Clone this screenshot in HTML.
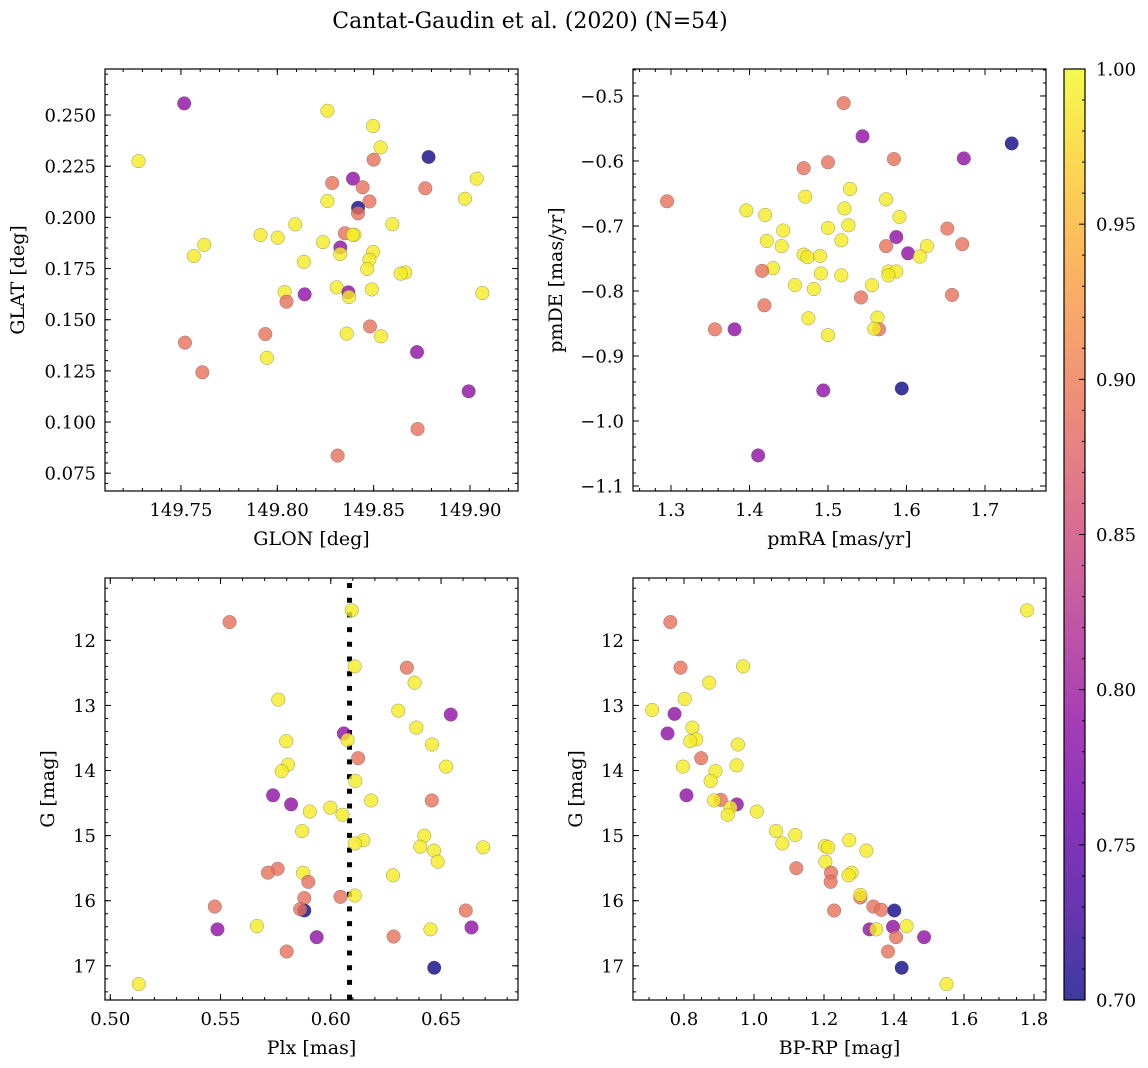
<!DOCTYPE html>
<html><head><meta charset="utf-8">
<style>
html,body{margin:0;padding:0;background:#fff;}
svg{display:block;font-family:"DejaVu Serif","Liberation Serif",serif;}
</style></head>
<body>
<svg id="fig" width="1148" height="1068" viewBox="0 0 1148 1068" xmlns="http://www.w3.org/2000/svg">
<rect width="1148" height="1068" fill="#fff"/>
<text x="530" y="28" font-size="22" text-anchor="middle">Cantat-Gaudin et al. (2020) (N=54)</text>
</svg>
<script>
// ---- data: top-left (GLON vs GLAT)
const glon = [149.7517,149.7280,149.8260,149.8497,149.8536,149.8500,149.8785,149.9035,149.8768,149.8285,149.8393,149.8443,149.8974,149.8260,149.8478,149.8419,149.8419,149.8093,149.8597,149.7913,149.8002,149.8351,149.8400,149.8391,149.8237,149.8327,149.8327,149.7621,149.7567,149.8497,149.8478,149.8138,149.8467,149.8664,149.8640,149.8308,149.8490,149.8369,149.8372,149.8038,149.8048,149.8142,149.9064,149.8481,149.8360,149.8538,149.7938,149.7521,149.7946,149.7611,149.8725,149.8993,149.8728,149.8313];
const glat = [0.2557,0.2275,0.2521,0.2446,0.2342,0.2282,0.2295,0.2189,0.2142,0.2168,0.2189,0.2147,0.2091,0.2080,0.2078,0.2047,0.2020,0.1966,0.1967,0.1914,0.1901,0.1922,0.1915,0.1915,0.1879,0.1853,0.1821,0.1866,0.1811,0.1831,0.1793,0.1783,0.1748,0.1731,0.1725,0.1658,0.1648,0.1634,0.1611,0.1635,0.1588,0.1624,0.1630,0.1467,0.1432,0.1419,0.1430,0.1388,0.1314,0.1243,0.1342,0.1150,0.0966,0.0836];
const probTL = [0.79,0.99,0.99,0.99,0.99,0.89,0.70,0.99,0.89,0.89,0.79,0.89,0.99,0.99,0.89,0.70,0.89,0.99,0.99,0.99,0.99,0.89,0.99,0.99,0.99,0.79,0.99,0.99,0.99,0.99,0.99,0.99,0.99,0.99,0.99,0.99,0.99,0.79,0.99,0.99,0.89,0.79,0.99,0.89,0.99,0.99,0.89,0.89,0.99,0.89,0.79,0.79,0.89,0.89];
// ---- data: top-right (pmRA vs pmDE)
const pmra = [1.520,1.544,1.734,1.673,1.584,1.500,1.469,1.295,1.528,1.471,1.574,1.396,1.420,1.521,1.591,1.500,1.526,1.443,1.652,1.517,1.422,1.441,1.587,1.574,1.671,1.626,1.602,1.617,1.469,1.474,1.490,1.430,1.416,1.491,1.517,1.577,1.587,1.577,1.458,1.482,1.556,1.542,1.658,1.419,1.475,1.563,1.565,1.559,1.356,1.381,1.500,1.494,1.594,1.411];
const pmde = [-0.511,-0.562,-0.573,-0.596,-0.597,-0.602,-0.611,-0.662,-0.643,-0.655,-0.659,-0.676,-0.683,-0.673,-0.686,-0.703,-0.699,-0.707,-0.704,-0.722,-0.723,-0.731,-0.717,-0.731,-0.728,-0.731,-0.742,-0.747,-0.744,-0.748,-0.746,-0.765,-0.769,-0.773,-0.776,-0.770,-0.770,-0.776,-0.791,-0.797,-0.791,-0.810,-0.806,-0.822,-0.842,-0.841,-0.859,-0.858,-0.859,-0.859,-0.868,-0.953,-0.950,-1.053];
const probTR = [0.89,0.79,0.70,0.79,0.89,0.89,0.89,0.89,0.99,0.99,0.99,0.99,0.99,0.99,0.99,0.99,0.99,0.99,0.89,0.99,0.99,0.99,0.79,0.89,0.89,0.99,0.79,0.99,0.99,0.99,0.99,0.99,0.89,0.99,0.99,0.99,0.99,0.99,0.99,0.99,0.99,0.89,0.89,0.89,0.99,0.99,0.89,0.99,0.89,0.79,0.99,0.79,0.70,0.79];
// ---- data: bottom-left (Plx vs G)
const plx = [0.6095,0.5541,0.6108,0.6345,0.6380,0.5762,0.6306,0.6544,0.6388,0.6059,0.6076,0.6459,0.5798,0.6124,0.5806,0.5777,0.6523,0.6111,0.5738,0.5820,0.6458,0.6183,0.5905,0.5998,0.6053,0.5870,0.6424,0.6148,0.6109,0.6406,0.6468,0.6691,0.6485,0.5759,0.5715,0.5874,0.5898,0.6282,0.6109,0.6044,0.5880,0.5474,0.6612,0.5880,0.5861,0.5486,0.5665,0.6452,0.6638,0.5936,0.6285,0.5800,0.6469,0.5129];
const gmagBL = [11.54,11.72,12.40,12.42,12.65,12.91,13.08,13.14,13.34,13.43,13.53,13.60,13.55,13.81,13.91,14.01,13.94,14.16,14.38,14.52,14.46,14.46,14.63,14.57,14.68,14.93,15.00,15.07,15.12,15.17,15.23,15.18,15.40,15.51,15.57,15.57,15.71,15.61,15.92,15.94,15.96,16.09,16.15,16.15,16.13,16.44,16.39,16.44,16.41,16.56,16.55,16.78,17.03,17.28];
const probBL = [0.99,0.89,0.99,0.89,0.99,0.99,0.99,0.79,0.99,0.79,0.99,0.99,0.99,0.89,0.99,0.99,0.99,0.99,0.79,0.79,0.89,0.99,0.99,0.99,0.99,0.99,0.99,0.99,0.99,0.99,0.99,0.99,0.99,0.89,0.89,0.99,0.89,0.99,0.99,0.89,0.89,0.89,0.89,0.70,0.89,0.79,0.99,0.99,0.79,0.79,0.89,0.89,0.70,0.99];
const plxRef = 0.6085;
// ---- data: bottom-right (BP-RP vs G)
const bprp = [1.780,0.761,0.790,0.969,0.872,0.802,0.709,0.773,0.824,0.753,0.835,0.818,0.954,0.849,0.797,0.950,0.890,0.876,0.807,0.905,0.886,0.951,0.933,0.925,1.008,1.063,1.118,1.081,1.272,1.203,1.212,1.321,1.204,1.121,1.220,1.279,1.270,1.219,1.304,1.304,1.341,1.364,1.401,1.229,1.330,1.349,1.397,1.436,1.406,1.486,1.383,1.422,1.550];
const gmagBR = [11.54,11.72,12.42,12.40,12.65,12.90,13.07,13.13,13.34,13.43,13.52,13.55,13.60,13.81,13.94,13.92,14.01,14.16,14.38,14.45,14.46,14.52,14.57,14.68,14.63,14.93,14.99,15.12,15.07,15.16,15.18,15.23,15.40,15.50,15.57,15.57,15.61,15.71,15.95,15.91,16.09,16.14,16.15,16.15,16.44,16.44,16.40,16.39,16.56,16.56,16.78,17.03,17.28];
const probBR = [0.99,0.89,0.89,0.99,0.99,0.99,0.99,0.79,0.99,0.79,0.99,0.99,0.99,0.89,0.99,0.99,0.99,0.99,0.79,0.89,0.99,0.79,0.99,0.99,0.99,0.99,0.99,0.99,0.99,0.99,0.99,0.99,0.99,0.89,0.89,0.99,0.99,0.89,0.89,0.99,0.89,0.89,0.70,0.89,0.79,0.99,0.79,0.99,0.89,0.79,0.89,0.70,0.99];
// ---- colorbar ticks
const cbarTicks = ["0.70","0.75","0.80","0.85","0.90","0.95","1.00"];

const NS="http://www.w3.org/2000/svg";
const svg=document.getElementById('fig');
function mk(tag,attrs,parent){const e=document.createElementNS(NS,tag);for(const k in attrs)e.setAttribute(k,attrs[k]);(parent||svg).appendChild(e);return e;}
const stops=[[13,8,135],[65,4,157],[106,0,168],[143,13,164],[177,42,144],[204,71,120],[225,100,98],[242,132,75],[252,166,54],[252,206,37],[240,249,33]];
function plasma(t){t=Math.max(0,Math.min(1,t));const f=t*10,i=Math.min(9,Math.floor(f)),u=f-i;const a=stops[i],b=stops[i+1];
 return 'rgb('+[0,1,2].map(k=>Math.round(a[k]+(b[k]-a[k])*u)).join(',')+')';}
const VMIN=0.70,VMAX=1.00;
function col(p){return plasma((p-VMIN)/(VMAX-VMIN));}
const TFS=18, LFS=19;

function panel(o){
 const g=mk('g',{});
 
 
 const sx=v=>o.x0+(v-o.xmin)/(o.xmax-o.xmin)*o.w;
 const sy=v=>o.inv? o.y0+(v-o.ymin)/(o.ymax-o.ymin)*o.h : o.y0+o.h-(v-o.ymin)/(o.ymax-o.ymin)*o.h;
 const eps=1e-9;
 const tk=mk('g',{stroke:'#000','stroke-width':1},g);
 
 
 for(let v=Math.ceil(o.xmin/o.xminor-eps)*o.xminor;v<=o.xmax+eps;v+=o.xminor){const X=sx(v);
  mk('line',{x1:X,x2:X,y1:o.y0+o.h,y2:o.y0+o.h-3},tk);mk('line',{x1:X,x2:X,y1:o.y0,y2:o.y0+3},tk);}
 for(let v=Math.ceil(o.ymin/o.yminor-eps)*o.yminor;v<=o.ymax+eps;v+=o.yminor){const Y=sy(v);
  mk('line',{x1:o.x0,x2:o.x0+3,y1:Y,y2:Y},tk);mk('line',{x1:o.x0+o.w,x2:o.x0+o.w-3,y1:Y,y2:Y},tk);}
 o.xt.forEach(v=>{const X=sx(v);
  mk('line',{x1:X,x2:X,y1:o.y0+o.h,y2:o.y0+o.h-6},tk);mk('line',{x1:X,x2:X,y1:o.y0,y2:o.y0+6},tk);
  const t=mk('text',{x:X,y:o.y0+o.h+25,'font-size':TFS,'text-anchor':'middle'},g);t.textContent=v.toFixed(o.xd);
  
  });
 o.yt.forEach(v=>{const Y=sy(v);
  mk('line',{x1:o.x0,x2:o.x0+6,y1:Y,y2:Y},tk);mk('line',{x1:o.x0+o.w,x2:o.x0+o.w-6,y1:Y,y2:Y},tk);
  const t=mk('text',{x:o.x0-9,y:Y+6.5,'font-size':TFS,'text-anchor':'end'},g);
  t.textContent=(v<0?'\u2212':'')+Math.abs(v).toFixed(o.yd);
  
  });
 if(o.vline!==undefined){const l=mk('line',{x1:sx(o.vline),x2:sx(o.vline),y1:o.y0+5,y2:o.y0+o.h,stroke:'#000','stroke-width':5,'stroke-dasharray':'5 9.7'},g);
  
  }
 const pts=mk('g',{},g);
 
 
 o.xs.forEach((v,i)=>{const c=mk('circle',{cx:sx(v),cy:sy(o.ys[i]),r:6.8,fill:col(o.ps[i]),'fill-opacity':0.8,stroke:'#555','stroke-opacity':0.6,'stroke-width':0.5},pts);
  
  });
 const fr=mk('rect',{x:o.x0,y:o.y0,width:o.w,height:o.h,fill:'none',stroke:'#000','stroke-width':1.2},g);
 
 
 const xl=mk('text',{x:o.x0+o.w/2,y:o.y0+o.h+54,'font-size':LFS,'text-anchor':'middle'},g);xl.textContent=o.xlabel;
 
 
 const yx=o.ylx, yy=o.y0+o.h/2;
 const yl=mk('text',{x:yx,y:yy,'font-size':LFS,'text-anchor':'middle',transform:'rotate(-90 '+yx+' '+yy+')'},g);yl.textContent=o.ylabel;
 
 
}
const W=413,H=422;
panel({name:'glon-glat-panel',x0:105,y0:69,w:W,h:H,xmin:149.7106,xmax:149.9249,ymin:0.0663,ymax:0.2725,
 xt:[149.75,149.80,149.85,149.90],xd:2,xminor:0.01,yt:[0.075,0.100,0.125,0.150,0.175,0.200,0.225,0.250],yd:3,yminor:0.005,
 xs:glon,ys:glat,ps:probTL,xlabel:'GLON [deg]',ylabel:'GLAT [deg]',ylx:24});
panel({name:'pm-panel',x0:633,y0:69,w:W,h:H,xmin:1.2516,xmax:1.7777,ymin:-1.1077,ymax:-0.4585,
 xt:[1.3,1.4,1.5,1.6,1.7],xd:1,xminor:0.02,yt:[-1.1,-1.0,-0.9,-0.8,-0.7,-0.6,-0.5],yd:1,yminor:0.02,
 xs:pmra,ys:pmde,ps:probTR,xlabel:'pmRA [mas/yr]',ylabel:'pmDE [mas/yr]',ylx:562});
panel({name:'plx-g-panel',x0:105,y0:578,w:W,h:H,xmin:0.4976,xmax:0.6849,ymin:11.0425,ymax:17.525,inv:true,
 xt:[0.50,0.55,0.60,0.65],xd:2,xminor:0.01,yt:[12,13,14,15,16,17],yd:0,yminor:0.2,
 xs:plx,ys:gmagBL,ps:probBL,vline:plxRef,xlabel:'Plx [mas]',ylabel:'G [mag]',ylx:54});
panel({name:'cmd-panel',x0:633,y0:578,w:W,h:H,xmin:0.6543,xmax:1.8343,ymin:11.0425,ymax:17.525,inv:true,
 xt:[0.8,1.0,1.2,1.4,1.6,1.8],xd:1,xminor:0.05,yt:[12,13,14,15,16,17],yd:0,yminor:0.2,
 xs:bprp,ys:gmagBR,ps:probBR,xlabel:'BP-RP [mag]',ylabel:'G [mag]',ylx:582});

// colorbar
(function(){
 const cx=1064,cy=69,cw=21,ch=931;
 const g=mk('g',{});
 
 
 const defs=mk('defs',{},g);
 const lg=mk('linearGradient',{id:'cb',x1:0,y1:1,x2:0,y2:0},defs);
 for(let i=0;i<=20;i++){mk('stop',{offset:(i/20),'stop-color':plasma(i/20)},lg);}
 mk('rect',{x:cx,y:cy,width:cw,height:ch,fill:'url(#cb)','fill-opacity':0.8},g);
 const sy=v=>cy+ch-(v-VMIN)/(VMAX-VMIN)*ch;
 for(let k=1;k<30;k++){if(k%5===0)continue;const Y=sy(VMIN+k*0.01);mk('line',{x1:cx+cw,x2:cx+cw-3,y1:Y,y2:Y,stroke:'#000','stroke-width':1},g);}
 cbarTicks.forEach(s=>{const v=parseFloat(s),Y=sy(v);
  mk('line',{x1:cx+cw,x2:cx+cw-6,y1:Y,y2:Y,stroke:'#000','stroke-width':1},g);
  const t=mk('text',{x:cx+cw+11,y:Y+6.5,'font-size':TFS},g);t.textContent=s;
  
  });
 mk('rect',{x:cx,y:cy,width:cw,height:ch,fill:'none',stroke:'#000','stroke-width':1.2},g);
})();
</script>
</body></html>
